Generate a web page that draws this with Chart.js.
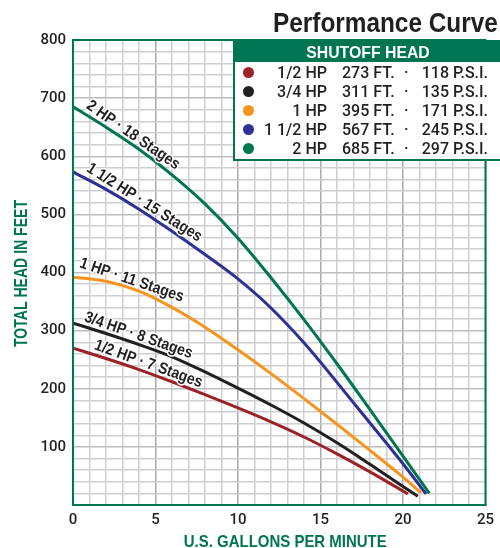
<!DOCTYPE html>
<html>
<head>
<meta charset="utf-8">
<script src="https://cdn.jsdelivr.net/npm/chart.js@4.4.1/dist/chart.umd.min.js"></script>
<style>
  html, body { margin: 0; padding: 0; background: #fff; width: 500px; height: 548px; overflow: hidden; }
  #wrap { position: relative; width: 500px; height: 548px; overflow: hidden; }
  #c { position: absolute; left: 0; top: 0; }
  #title { position: absolute; left: 273px; top: 9px; font: bold 28px "Liberation Sans", Arial, sans-serif; line-height: 28px; color: #231f20; white-space: nowrap; transform: scaleX(0.87); transform-origin: 0 0; }
  #legend { position: absolute; left: 233px; top: 40px; width: 272px; height: 121px; box-sizing: border-box; border: 2px solid #007552; background: #fff; }
  #legend .head { position: absolute; left: 0; top: 0; width: 266px; height: 20px; background: #007552; }
  #legend .head div { position: absolute; left: 0; width: 266px; top: 0; text-align: center; color: #fff; font: bold 17px "Liberation Sans", Arial, sans-serif; line-height: 21px; transform: scaleX(0.93); transform-origin: 133px 0; }
  #legend .headfill { position: absolute; left: 266px; top: 0; width: 10px; height: 20px; background: #007552; }
  .row { position: absolute; left: 0; height: 19px; width: 266px; font: 500 16px Roboto, "Liberation Sans", Arial, sans-serif; line-height: 19px; color: #231f20; }
  .row span { position: absolute; top: 0; white-space: nowrap; }
  .dot { position: absolute; width: 11px; height: 11px; border-radius: 50%; top: 4px; }
</style>
</head>
<body>
<div id="wrap">
  <canvas id="c" width="500" height="548"></canvas>
  <div id="title">Performance Curve</div>
  <div id="legend"><div class="head"><div>SHUTOFF HEAD</div></div><div class="headfill"></div></div>
</div>
<script>
// ---- data ----
const seriesNames = ['1/2 HP', '3/4 HP', '1 HP', '1 1/2 HP', '2 HP'];
const stageLabels = ['1/2 HP · 7 Stages', '3/4 HP · 8 Stages', '1 HP · 11 Stages', '1 1/2 HP · 15 Stages', '2 HP · 18 Stages'];
const shutoffFt = [273, 311, 395, 567, 685];
const shutoffPsi = [118, 135, 171, 245, 297];
const seriesColors = ['#9b2226', '#231f20', '#f7941d', '#2e3192', '#007552'];

const gpmHalf  = [0, 2, 4, 6, 8, 10, 12, 14, 16, 18, 20, 20.3];
const headHalf = [270, 252, 233, 212, 190, 167, 143, 117, 88, 57, 24, 19];

const gpmThreeQ  = [0, 2, 4, 6, 8, 10, 12, 14, 16, 18, 20, 20.9];
const headThreeQ = [313, 295, 276, 255, 229, 201, 172, 141, 107, 70, 32, 15];

const gpmOne  = [0, 2, 4, 6, 8, 10, 12, 14, 16, 18, 20, 21.1];
const headOne = [392, 385, 368, 340, 306, 267, 226, 183, 139, 94, 48, 21];

const gpmOneHalf  = [0, 2, 4, 6, 8, 10, 12, 14, 16, 18, 20, 21.4];
const headOneHalf = [573, 543, 509, 471, 431, 389, 339, 279, 211, 141, 71, 19];

const gpmTwo  = [0, 2, 4, 6, 8, 10, 12, 14, 16, 18, 20, 21.6];
const headTwo = [685, 650, 612, 568, 518, 459, 391, 319, 243, 164, 84, 20];

const xTickLabels = [0, 5, 10, 15, 20, 25];
const yTickLabels = [100, 200, 300, 400, 500, 600, 700, 800];
const xTitle = 'U.S. GALLONS PER MINUTE';
const yTitle = 'TOTAL HEAD IN FEET';

const gpmSets = [gpmHalf, gpmThreeQ, gpmOne, gpmOneHalf, gpmTwo];
const headSets = [headHalf, headThreeQ, headOne, headOneHalf, headTwo];

// where (in gpm) each curve's label is centred along its curve
const labelCenters = [4.4, 3.8, 3.4, 4.05, 3.35];

const GREEN = '#007552';
const SANS = '"Liberation Sans", Arial, sans-serif';
const TICKFONT = 'Roboto, "Liberation Sans", Arial, sans-serif';

// ---- legend (HTML) ----
const legend = document.getElementById('legend');
seriesNames.forEach((name, i) => {
  const row = document.createElement('div');
  row.className = 'row';
  row.style.top = (21 + i * 19.1) + 'px';
  row.innerHTML =
    '<div class="dot" style="left:8px;background:' + seriesColors[i] + '"></div>' +
    '<span style="right:' + (266 - 92) + 'px">' + name + '</span>' +
    '<span style="left:107px">' + shutoffFt[i] + ' FT.</span>' +
    '<span style="left:169px">·</span>' +
    '<span style="right:' + (266 - 253) + 'px">' + shutoffPsi[i] + ' P.S.I.</span>';
  legend.appendChild(row);
});

function headAt(i, g) {
  const xs = gpmSets[i], ys = headSets[i];
  for (let k = 0; k < xs.length - 1; k++) {
    if (g >= xs[k] && g <= xs[k + 1]) {
      const t = (g - xs[k]) / (xs[k + 1] - xs[k]);
      return ys[k] + t * (ys[k + 1] - ys[k]);
    }
  }
  return ys[ys.length - 1];
}

function condensedText(ctx, txt, x, y, rot, font, width, color) {
  ctx.save();
  ctx.font = font;
  const w = ctx.measureText(txt).width;
  ctx.translate(x, y);
  ctx.rotate(rot);
  ctx.scale(width / w, 1);
  ctx.fillStyle = color;
  ctx.textAlign = 'center';
  ctx.textBaseline = 'middle';
  ctx.fillText(txt, 0, 0);
  ctx.restore();
}

const frame = {
  id: 'frame',
  afterDraw(chart) {
    const { ctx, chartArea: a } = chart;
    ctx.save();
    ctx.strokeStyle = GREEN;
    ctx.lineWidth = 2;
    ctx.strokeRect(a.left, a.top, a.right - a.left, a.bottom - a.top);
    ctx.restore();
    const xMid = (a.left + a.right) / 2 + 6;
    condensedText(ctx, xTitle, xMid, a.bottom + 37, 0, 'bold 17px ' + SANS, 203, GREEN);
    condensedText(ctx, yTitle, 22, (a.top + a.bottom) / 2 + 1, -Math.PI / 2, 'bold 18px ' + SANS, 147, GREEN);
  }
};

const curveText = {
  id: 'curveText',
  afterDatasetsDraw(chart) {
    const { ctx } = chart;
    const xs = chart.scales.x, ys = chart.scales.y;
    stageLabels.forEach((txt, i) => {
      const g = labelCenters[i];
      const px = xs.getPixelForValue(g), py = ys.getPixelForValue(headAt(i, g));
      const ax = xs.getPixelForValue(g - 1), ay = ys.getPixelForValue(headAt(i, g - 1));
      const bx = xs.getPixelForValue(g + 1), by = ys.getPixelForValue(headAt(i, g + 1));
      const ang = Math.atan2(by - ay, bx - ax);
      ctx.save();
      ctx.translate(px, py);
      ctx.rotate(ang);
      ctx.scale(0.88, 1);
      ctx.font = 'bold 16px ' + SANS;
      ctx.textAlign = 'center';
      ctx.textBaseline = 'alphabetic';
      ctx.lineJoin = 'round';
      ctx.strokeStyle = '#fff';
      ctx.lineWidth = 3;
      ctx.strokeText(txt, 0, -4);
      ctx.fillStyle = '#231f20';
      ctx.fillText(txt, 0, -4);
      ctx.restore();
    });
  }
};

new Chart(document.getElementById('c'), {
  type: 'line',
  data: {
    datasets: seriesNames.map((n, i) => ({
      label: n,
      data: gpmSets[i].map((x, k) => ({ x: x, y: headSets[i][k] })),
      borderColor: seriesColors[i],
      borderWidth: 3,
      pointRadius: 0,
      fill: false,
      cubicInterpolationMode: 'monotone'
    })).reverse()
  },
  options: {
    responsive: false,
    animation: false,
    devicePixelRatio: 1,
    layout: { padding: { top: 40, right: 2, left: 0, bottom: 0 } },
    plugins: { legend: { display: false }, tooltip: { enabled: false } },
    scales: {
      x: {
        type: 'linear', min: 0, max: 25,
        afterFit(s) { s.height = 43; },
        ticks: {
          stepSize: 1, autoSkip: false, maxRotation: 0, padding: 6,
          color: '#231f20', font: { family: TICKFONT, size: 15, weight: 500 },
          callback: v => xTickLabels.includes(v) ? String(v) : ''
        },
        grid: {
          drawTicks: false, lineWidth: 1.5,
          color: c => (c.tick && c.tick.value % 5 === 0) ? '#a9a9ad' : '#cfcfd2'
        },
        border: { display: true, color: GREEN, width: 2 },
        title: { display: false, text: xTitle }
      },
      y: {
        type: 'linear', min: 0, max: 800,
        afterFit(s) { s.width = 73; },
        ticks: {
          stepSize: 20, autoSkip: false, padding: 7,
          color: '#231f20', font: { family: TICKFONT, size: 15, weight: 500 },
          callback: v => yTickLabels.includes(v) ? String(v) : ''
        },
        grid: {
          drawTicks: false, lineWidth: 1.5,
          color: c => (c.tick && c.tick.value % 100 === 0) ? '#bdbdc1' : '#cfcfd2'
        },
        border: { display: true, color: GREEN, width: 2 },
        title: { display: false, text: yTitle }
      }
    }
  },
  plugins: [curveText, frame]
});
</script>
</body>
</html>
